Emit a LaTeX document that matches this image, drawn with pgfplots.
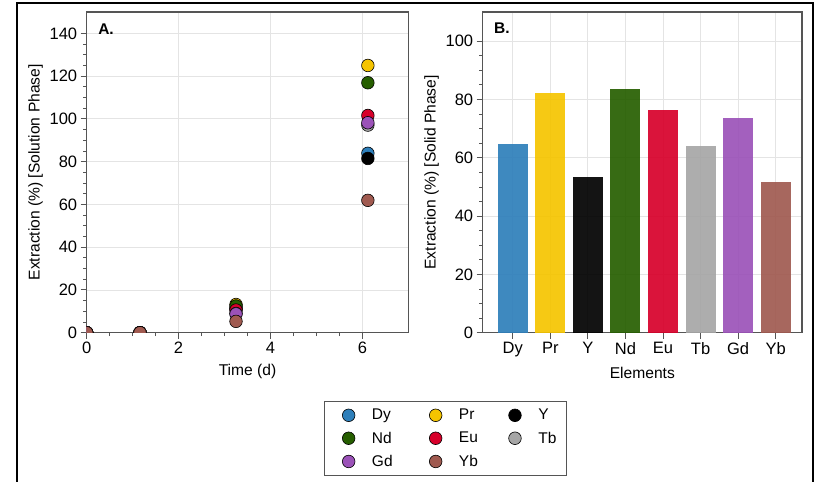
\documentclass[border=0pt]{standalone}
\usepackage{fontspec}
\setmainfont{Liberation Sans}
\usepackage{pgfplots}
\pgfplotsset{compat=1.18}
\definecolor{cDy}{RGB}{46,127,186}
\definecolor{cPr}{RGB}{245,196,0}
\definecolor{cY}{RGB}{0,0,0}
\definecolor{cNd}{RGB}{38,94,0}
\definecolor{cEu}{RGB}{215,0,42}
\definecolor{cTb}{RGB}{166,166,166}
\definecolor{cGd}{RGB}{155,82,184}
\definecolor{cYb}{RGB}{160,90,80}
\definecolor{axgray}{RGB}{85,85,85}
\definecolor{gridgray}{RGB}{228,228,228}
\begin{document}
\begin{tikzpicture}[x=1pt,y=1pt,font=\fontsize{15.5}{18.6}\selectfont]
\path[use as bounding box] (0pt,0pt) rectangle (815pt,482pt);
\draw[line width=2pt] (17pt,-5pt) -- (17pt,479pt) -- (812.5pt,479pt) -- (812.5pt,-5pt);
\pgfplotsset{common/.style={
  scale only axis, height=320.7pt,
  axis line style={draw=axgray,line width=1.2pt},
  grid=major, grid style={draw=gridgray,line width=0.8pt},
  tick align=outside, xtick pos=left, ytick pos=left,
  major tick length=6pt, minor tick length=3.5pt,
  every tick/.style={draw=axgray,line width=1pt},
  minor tick style={draw=axgray,line width=0.8pt},
  /pgf/number format/assume math mode=true,
  tick label style={font=\fontsize{16.5}{19.8}\selectfont},
  label style={font=\fontsize{15.6}{18.7}\selectfont},
  xlabel style={yshift=-3pt},
}}
\begin{axis}[common, at={(86.7pt,149.3pt)}, anchor=south west, width=321.6pt,
  xmin=0, xmax=7, ymin=0, ymax=150,
  xtick={0,2,4,6}, ytick={0,20,...,140},
  minor x tick num=3, minor y tick num=3,
  clip marker paths=true,
  xlabel={Time (d)}, ylabel={Extraction (\%) [Solution Phase]},
  legend columns=3,
  legend style={at={(1.1157,-0.33)}, anchor=center, draw=axgray, line width=1pt,
    font=\fontsize{15.5}{18.6}\selectfont, row sep=6.5pt, inner xsep=8pt, inner ysep=6pt,
    /tikz/every odd column/.append style={column sep=15pt},
    /tikz/column 2/.append style={column sep=25pt},
    /tikz/column 4/.append style={column sep=19pt}},
  legend cell align=left,
  mk/.style={only marks, mark=*, mark size=6.3pt, mark options={fill=#1, draw=black, line width=0.6pt},
    legend image code/.code={\path (-7pt,0pt); \draw[mark repeat=2,mark phase=2,##1] plot coordinates {(0cm,0cm) (0.3cm,0cm) (0.6cm,0cm)};}},
]
\addplot[mk=cDy] coordinates {(0,0) (1.16,0) (3.25,11) (6.12,83.9)};
\addlegendentry{Dy}
\addplot[mk=cPr] coordinates {(0,0) (1.16,0) (3.25,13.2) (6.12,125)};
\addlegendentry{Pr}
\addplot[mk=cY] coordinates {(0,0) (1.16,0) (3.25,11.5) (6.12,81.5)};
\addlegendentry{Y}
\addplot[mk=cNd] coordinates {(0,0) (1.16,0) (3.25,12.5) (6.12,116.9)};
\addlegendentry{Nd}
\addplot[mk=cEu] coordinates {(0,0) (1.16,0) (3.25,10.6) (6.12,101.6)};
\addlegendentry{Eu}
\addplot[mk=cTb] coordinates {(0,0) (1.16,0) (3.25,9) (6.12,97.1)};
\addlegendentry{Tb}
\addplot[mk=cGd] coordinates {(0,0) (1.16,0) (3.25,8.8) (6.12,98.2)};
\addlegendentry{Gd}
\addplot[mk=cYb] coordinates {(0,0) (1.16,0) (3.25,5.3) (6.12,61.9)};
\addlegendentry{Yb}
\node[anchor=west, font=\fontsize{15.5}{18.6}\selectfont\bfseries] at (rel axis cs:0.025,0.947) {A.};
\end{axis}
\begin{axis}[common, at={(482.7pt,149.3pt)}, anchor=south west, width=319.3pt,
  xmin=-0.8, xmax=7.7, ymin=0, ymax=110,
  xtick={0,...,7}, xticklabels={Dy,Pr,Y,Nd,Eu,Tb,Gd,Yb},
  ytick={0,20,...,100}, minor y tick num=3,
  xlabel={Elements}, ylabel={Extraction (\%) [Solid Phase]},
  bb/.style={ybar, bar width=0.8, fill=#1, draw=none, fill opacity=0.92},
]
\addplot[bb=cDy] coordinates {(0,64.6)};
\addplot[bb=cPr] coordinates {(1,82.3)};
\addplot[bb=cY] coordinates {(2,53.5)};
\addplot[bb=cNd] coordinates {(3,83.5)};
\addplot[bb=cEu] coordinates {(4,76.4)};
\addplot[bb=cTb] coordinates {(5,64.0)};
\addplot[bb=cGd] coordinates {(6,73.5)};
\addplot[bb=cYb] coordinates {(7,51.7)};
\node[anchor=west, font=\fontsize{15.5}{18.6}\selectfont\bfseries] at (rel axis cs:0.025,0.95) {B.};
\end{axis}
\end{tikzpicture}
\end{document}
